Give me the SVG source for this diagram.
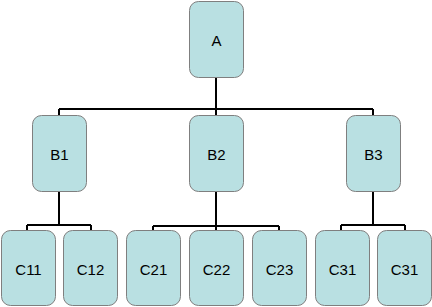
<svg xmlns="http://www.w3.org/2000/svg" width="432" height="307" viewBox="0 0 432 307">
  <style>
    .box { fill: #b9e0e2; stroke: #7f7f7f; stroke-width: 1; }
    .lbl { font-family: "Liberation Sans", Arial, sans-serif; font-size: 15px; fill: #000; text-anchor: middle; dominant-baseline: central; }
    .wire { fill: none; stroke: #000; stroke-width: 2; }
  </style>
  <rect width="432" height="307" fill="#ffffff"/>
  <g id="connectors">
    <path class="wire" d="M216 77 V109 M59 109 H373 M59 109 V115 M216 109 V115 M373 109 V115"/>
    <path class="wire" d="M59 192 V225 M27 225 H91 M27 225 V230 M91 225 V230"/>
    <path class="wire" d="M216 192 V226 M153 226 H279 M153 226 V230 M216 226 V230 M279 226 V230"/>
    <path class="wire" d="M373 192 V225 M341 225 H405 M341 225 V230 M405 225 V230"/>
  </g>
  <g id="nA"><rect class="box" x="189.5" y="1.5" width="54" height="76" rx="9"/><text class="lbl" x="216.5" y="40">A</text></g>
  <g id="nB1"><rect class="box" x="32.5" y="115.5" width="54" height="76" rx="9"/><text class="lbl" x="59.5" y="154">B1</text></g>
  <g id="nB2"><rect class="box" x="189.5" y="115.5" width="54" height="76" rx="9"/><text class="lbl" x="216.5" y="154">B2</text></g>
  <g id="nB3"><rect class="box" x="346.5" y="115.5" width="54" height="76" rx="9"/><text class="lbl" x="373.5" y="154">B3</text></g>
  <g id="nC11"><rect class="box" x="1.5" y="230.5" width="54" height="75" rx="9"/><text class="lbl" x="28.5" y="269">C11</text></g>
  <g id="nC12"><rect class="box" x="63.5" y="230.5" width="54" height="75" rx="9"/><text class="lbl" x="90.5" y="269">C12</text></g>
  <g id="nC21"><rect class="box" x="126.5" y="230.5" width="54" height="75" rx="9"/><text class="lbl" x="153.5" y="269">C21</text></g>
  <g id="nC22"><rect class="box" x="189.5" y="230.5" width="54" height="75" rx="9"/><text class="lbl" x="216.5" y="269">C22</text></g>
  <g id="nC23"><rect class="box" x="252.5" y="230.5" width="54" height="75" rx="9"/><text class="lbl" x="279.5" y="269">C23</text></g>
  <g id="nC31a"><rect class="box" x="315.5" y="230.5" width="54" height="75" rx="9"/><text class="lbl" x="342.5" y="269">C31</text></g>
  <g id="nC31b"><rect class="box" x="377.5" y="230.5" width="54" height="75" rx="9"/><text class="lbl" x="404.5" y="269">C31</text></g>
</svg>
